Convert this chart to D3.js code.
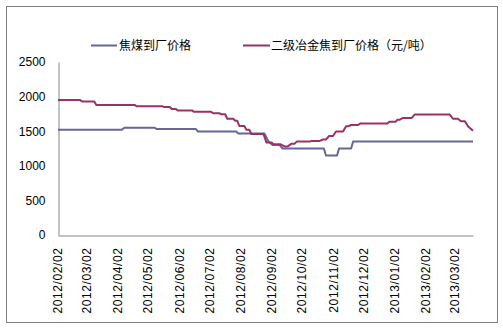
<!DOCTYPE html>
<html>
<head>
<meta charset="utf-8">
<script src="https://cdn.jsdelivr.net/npm/d3@7"></script>
<style>
  html, body { margin: 0; padding: 0; background: #ffffff; }
  svg { display: block; }
</style>
</head>
<body>
<svg id="chart" width="503" height="333"></svg>
<script>
// Coking coal delivered price (元/吨), change points
const cokingCoalDates = [
  "2012-02-02","2012-04-05","2012-04-08","2012-05-08","2012-05-10","2012-06-18",
  "2012-06-20","2012-07-28","2012-07-30","2012-08-25","2012-08-29","2012-09-02",
  "2012-09-09","2012-09-12","2012-10-23","2012-10-25","2012-11-05","2012-11-07",
  "2012-11-19","2012-11-21","2013-03-20"
];
const cokingCoalValues = [
  1520,1520,1550,1550,1530,1530,
  1495,1495,1465,1465,1350,1300,
  1300,1250,1250,1150,1150,1250,
  1250,1350,1350
];

// Grade-2 metallurgical coke delivered price (元/吨), change points
const cokeDates = [
  "2012-02-02","2012-02-24","2012-02-26","2012-03-09","2012-03-11","2012-04-18",
  "2012-04-20","2012-05-16","2012-05-17","2012-05-23","2012-05-25","2012-05-29",
  "2012-05-31","2012-06-14","2012-06-16","2012-07-03","2012-07-05","2012-07-11",
  "2012-07-13","2012-07-17","2012-07-19","2012-07-25","2012-07-27","2012-07-29",
  "2012-07-31","2012-08-05","2012-08-07","2012-08-10","2012-08-12","2012-08-24",
  "2012-08-27","2012-09-01","2012-09-03","2012-09-10","2012-09-14","2012-09-17",
  "2012-09-21","2012-09-24","2012-09-26","2012-10-09","2012-10-11","2012-10-19",
  "2012-10-22","2012-10-25","2012-10-28","2012-11-01","2012-11-04","2012-11-11",
  "2012-11-14","2012-11-16","2012-11-19","2012-11-26","2012-11-28","2012-12-25",
  "2012-12-27","2013-01-02","2013-01-04","2013-01-06","2013-01-09","2013-01-18",
  "2013-01-21","2013-02-25","2013-02-28","2013-03-05","2013-03-08","2013-03-12",
  "2013-03-15","2013-03-20"
];
const cokeValues = [
  1950,1950,1930,1930,1880,1880,
  1860,1860,1850,1850,1820,1820,
  1800,1800,1780,1780,1760,1760,
  1745,1745,1680,1680,1650,1650,
  1575,1575,1520,1520,1460,1460,
  1335,1335,1310,1310,1280,1280,
  1320,1320,1350,1350,1360,1360,
  1380,1380,1430,1430,1495,1495,
  1570,1570,1590,1590,1610,1610,
  1635,1635,1665,1665,1690,1690,
  1740,1740,1680,1680,1645,1645,
  1570,1505
];

const seriesNames = ["焦煤到厂价格", "二级冶金焦到厂价格（元/吨）"];
const seriesColors = ["#666699", "#993366"];
const yTicks = [0, 500, 1000, 1500, 2000, 2500];
const xTickLabels = [
  "2012/02/02","2012/03/02","2012/04/02","2012/05/02","2012/06/02","2012/07/02",
  "2012/08/02","2012/09/02","2012/10/02","2012/11/02","2012/12/02","2013/01/02",
  "2013/02/02","2013/03/02"
];

const parseDay = d3.timeParse("%Y-%m-%d");
const parseLabel = d3.timeParse("%Y/%m/%d");

const svg = d3.select("#chart");

// Outer chart frame
svg.append("rect")
  .attr("x", 6.5).attr("y", 6.5)
  .attr("width", 491).attr("height", 316)
  .attr("fill", "#ffffff")
  .attr("stroke", "#808080")
  .attr("stroke-width", 1);

const plot = { left: 58, right: 473, top: 62, bottom: 235 };

const x = d3.scaleTime()
  .domain([parseDay("2012-02-02"), parseDay("2013-03-20")])
  .range([plot.left, plot.right]);

const y = d3.scaleLinear()
  .domain([0, 2500])
  .range([plot.bottom, plot.top]);

// Y axis
const yAxis = svg.append("g")
  .attr("transform", `translate(${plot.left + 0.5},0)`)
  .call(d3.axisLeft(y).tickValues(yTicks).tickSize(0).tickPadding(13).tickFormat(d3.format("d")));
yAxis.select(".domain").attr("stroke", "#868686");
yAxis.selectAll("text")
  .attr("font-family", "'Liberation Sans', Arial, sans-serif")
  .attr("font-size", 12)
  .attr("fill", "#000");

// X axis
const xAxis = svg.append("g")
  .attr("transform", `translate(0,${plot.bottom + 0.5})`)
  .call(d3.axisBottom(x)
    .tickValues(xTickLabels.map(parseLabel))
    .tickSize(0)
    .tickFormat(d3.timeFormat("%Y/%m/%d")));
xAxis.select(".domain").attr("stroke", "#868686");
xAxis.selectAll("text")
  .attr("font-family", "'Liberation Sans', Arial, sans-serif")
  .attr("font-size", 12)
  .attr("letter-spacing", "0.6px")
  .attr("fill", "#000")
  .attr("text-anchor", "end")
  .attr("transform", "rotate(-90)")
  .attr("x", -12)
  .attr("y", -1)
  .attr("dy", "0.35em");

// Lines
const line = d3.line()
  .x(d => x(d.date))
  .y(d => y(d.value));

const series = [
  cokingCoalDates.map((d, i) => ({ date: parseDay(d), value: cokingCoalValues[i] })),
  cokeDates.map((d, i) => ({ date: parseDay(d), value: cokeValues[i] }))
];

series.forEach((s, i) => {
  svg.append("path")
    .datum(s)
    .attr("fill", "none")
    .attr("stroke", seriesColors[i])
    .attr("stroke-width", 2)
    .attr("stroke-linejoin", "round")
    .attr("d", line);
});

// Legend
const legendItems = [
  { x1: 91, x2: 117, tx: 119 },
  { x1: 243, x2: 270, tx: 271 }
];
const legendY = 45.5;
legendItems.forEach((it, i) => {
  svg.append("line")
    .attr("x1", it.x1).attr("x2", it.x2)
    .attr("y1", legendY).attr("y2", legendY)
    .attr("stroke", seriesColors[i])
    .attr("stroke-width", 2);
  svg.append("text")
    .attr("x", it.tx).attr("y", legendY)
    .attr("dy", "0.36em")
    .attr("font-family", "'Noto Sans CJK SC', sans-serif")
    .attr("font-size", 12)
    .attr("fill", "#000")
    .text(seriesNames[i]);
});
</script>
</body>
</html>
